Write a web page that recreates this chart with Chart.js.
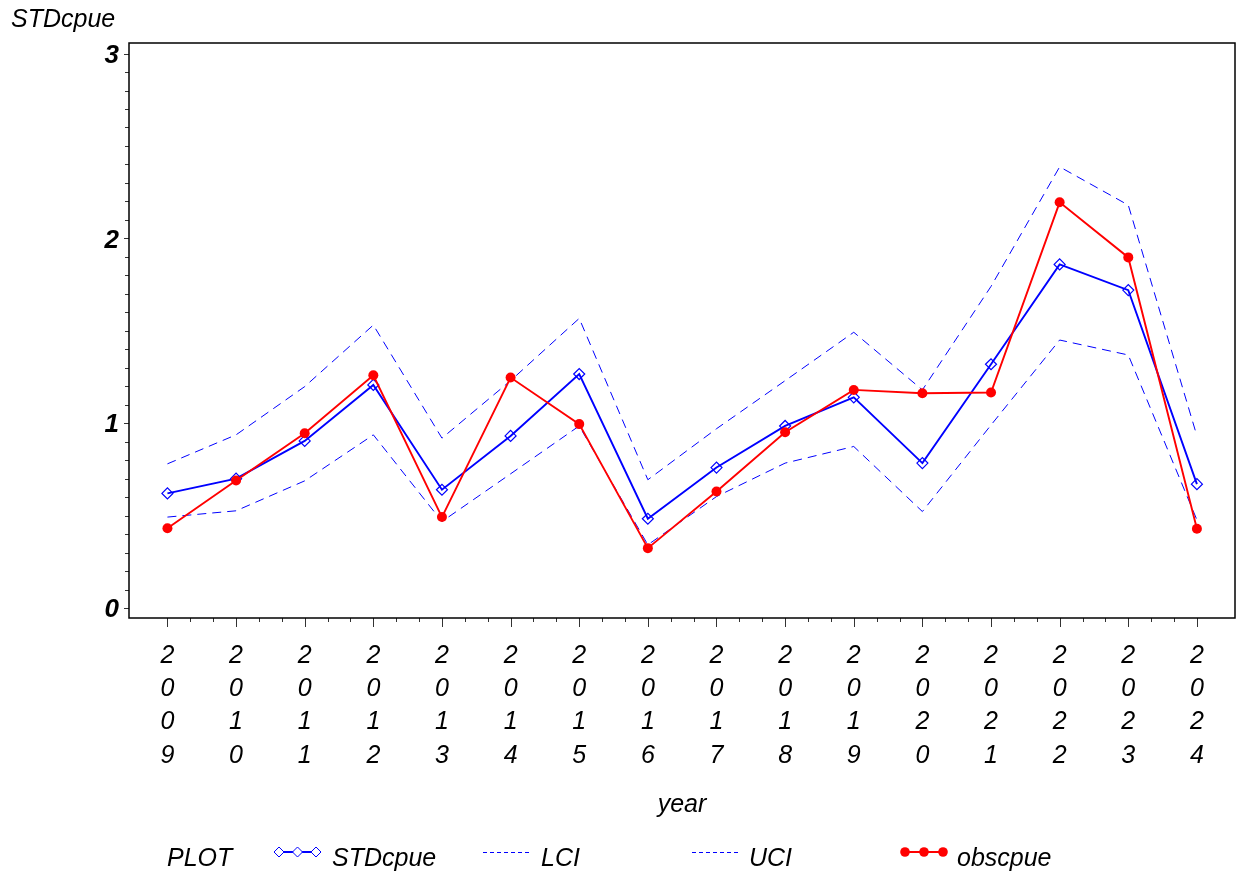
<!DOCTYPE html>
<html>
<head>
<meta charset="utf-8">
<title>STDcpue by year</title>
<script src="https://cdn.jsdelivr.net/npm/chart.js@4"></script>
<style>
  html, body { margin: 0; padding: 0; background: #fff; overflow: hidden; }
  #wrap { width: 1237px; height: 875px; overflow: hidden; }
  #cpueChart { display: block; }
</style>
</head>
<body>
<div id="wrap"><canvas id="cpueChart" width="1237" height="875"></canvas></div>
<script>
// values
const years = [2009, 2010, 2011, 2012, 2013, 2014, 2015, 2016, 2017, 2018, 2019, 2020, 2021, 2022, 2023, 2024];
const stdCpue = [0.62, 0.70, 0.904, 1.207, 0.64, 0.931, 1.266, 0.483, 0.76, 0.985, 1.14, 0.784, 1.319, 1.859, 1.72, 0.67];
const obsCpue = [0.432, 0.69, 0.946, 1.259, 0.492, 1.247, 0.995, 0.324, 0.63, 0.951, 1.18, 1.162, 1.166, 2.195, 1.897, 0.429];
const lci = [0.492, 0.526, 0.688, 0.937, 0.468, 0.726, 0.985, 0.342, 0.603, 0.784, 0.874, 0.522, 0.99, 1.45, 1.369, 0.477];
const uci = [0.78, 0.937, 1.198, 1.531, 0.919, 1.23, 1.567, 0.694, 0.97, 1.23, 1.492, 1.18, 1.74, 2.387, 2.18, 0.931];
const yTickValues = [0, 1, 2, 3];

const FONT = '"Liberation Sans", Arial, Helvetica, sans-serif';
const BLUE = '#0000ff';
const RED = '#ff0000';

const toPoints = arr => years.map((yr, i) => ({ x: yr, y: arr[i] }));

// frame, minor/major tick marks, axis titles and the legend row
const decorations = {
    id: 'decorations',
    afterDraw(chart) {
        const { ctx, chartArea: a } = chart;
        const xs = chart.scales.x;
        const ys = chart.scales.y;

        ctx.save();

        const seg = (x1, y1, x2, y2) => {
            ctx.beginPath();
            ctx.moveTo(x1, y1);
            ctx.lineTo(x2, y2);
            ctx.stroke();
        };

        // tick marks
        ctx.strokeStyle = '#333';
        ctx.lineWidth = 1;
        years.forEach((yr, i) => {
            const px = Math.round(xs.getPixelForValue(yr)) + 0.5;
            seg(px, a.bottom, px, a.bottom + 9);
            if (i < years.length - 1) {
                for (let k = 1; k <= 2; k++) {
                    const mx = Math.round(xs.getPixelForValue(yr + k / 3)) + 0.5;
                    seg(mx, a.bottom, mx, a.bottom + 4);
                }
            }
        });
        for (let t = 0; t <= 30; t++) {
            const py = Math.round(ys.getPixelForValue(t / 10)) + 0.5;
            const len = t % 10 === 0 ? 5 : 4;
            seg(a.left - len, py, a.left, py);
        }

        // frame
        ctx.strokeStyle = '#000';
        ctx.lineWidth = 1.5;
        ctx.strokeRect(a.left, a.top, a.right - a.left, a.bottom - a.top);

        // titles
        ctx.fillStyle = '#000';
        ctx.font = 'italic 25px ' + FONT;
        ctx.textBaseline = 'alphabetic';
        ctx.textAlign = 'left';
        ctx.fillText('STDcpue', 11, 27);
        ctx.textAlign = 'center';
        ctx.fillText('year', (a.left + a.right) / 2, 812);

        // legend
        const ly = 852;
        const tb = 866;
        ctx.textAlign = 'left';
        ctx.fillText('PLOT', 167, tb);

        const diamond = (cx, cy, r) => {
            ctx.beginPath();
            ctx.moveTo(cx, cy - r);
            ctx.lineTo(cx + r, cy);
            ctx.lineTo(cx, cy + r);
            ctx.lineTo(cx - r, cy);
            ctx.closePath();
            ctx.fillStyle = '#fff';
            ctx.fill();
            ctx.stroke();
        };

        // STDcpue
        ctx.strokeStyle = BLUE;
        ctx.lineWidth = 2;
        seg(279, ly, 316, ly);
        ctx.lineWidth = 1;
        [279, 297.5, 316].forEach(cx => diamond(cx, ly, 5));
        ctx.fillStyle = '#000';
        ctx.fillText('STDcpue', 332, tb);

        // LCI / UCI
        ctx.strokeStyle = BLUE;
        ctx.lineWidth = 1;
        ctx.setLineDash([4, 3]);
        seg(483, ly + 0.5, 530, ly + 0.5);
        seg(692, ly + 0.5, 738, ly + 0.5);
        ctx.setLineDash([]);
        ctx.fillText('LCI', 541, tb);
        ctx.fillText('UCI', 749, tb);

        // obscpue
        ctx.strokeStyle = RED;
        ctx.fillStyle = RED;
        ctx.lineWidth = 2;
        seg(905, ly, 943, ly);
        [905, 924, 943].forEach(cx => {
            ctx.beginPath();
            ctx.arc(cx, ly, 4.8, 0, Math.PI * 2);
            ctx.fill();
        });
        ctx.fillStyle = '#000';
        ctx.fillText('obscpue', 957, tb);

        ctx.restore();
    }
};

const ctx = document.getElementById('cpueChart').getContext('2d');

new Chart(ctx, {
    type: 'line',
    data: {
        datasets: [
            {
                label: 'obscpue',
                data: toPoints(obsCpue),
                borderColor: RED,
                backgroundColor: RED,
                borderWidth: 1.9,
                pointStyle: 'circle',
                pointRadius: 5,
                pointBorderWidth: 0,
                pointBackgroundColor: RED,
                tension: 0,
                order: 0,
            },
            {
                label: 'STDcpue',
                data: toPoints(stdCpue),
                borderColor: BLUE,
                borderWidth: 1.9,
                pointStyle: 'rectRot',
                pointRadius: 5.5,
                pointBorderWidth: 1.2,
                pointBorderColor: BLUE,
                pointBackgroundColor: 'rgba(255,255,255,0)',
                tension: 0,
                order: 1,
            },
            {
                label: 'LCI',
                data: toPoints(lci),
                borderColor: BLUE,
                borderWidth: 1,
                borderDash: [9, 6],
                pointRadius: 0,
                tension: 0,
                order: 2,
            },
            {
                label: 'UCI',
                data: toPoints(uci),
                borderColor: BLUE,
                borderWidth: 1,
                borderDash: [9, 6],
                pointRadius: 0,
                tension: 0,
                order: 3,
            },
        ],
    },
    options: {
        responsive: false,
        animation: false,
        devicePixelRatio: 1,
        // autoPadding would reserve room for point radii and pull the right edge in
        layout: { autoPadding: false, padding: { left: 0, right: 2, top: 43, bottom: 0 } },
        plugins: {
            legend: { display: false },
            title: { display: false },
            tooltip: { enabled: false },
        },
        scales: {
            x: {
                type: 'linear',
                min: 2008.44,
                max: 2024.555,
                grid: { display: false, drawTicks: false },
                border: { display: false },
                afterBuildTicks: scale => {
                    scale.ticks = years.map(v => ({ value: v }));
                },
                afterFit: scale => {
                    scale.height = 257;
                },
                ticks: {
                    autoSkip: false,
                    maxRotation: 0,
                    minRotation: 0,
                    padding: 21,
                    color: '#000',
                    font: { family: FONT, size: 25, style: 'italic', lineHeight: 1.333 },
                    callback: value => String(value).split(''),
                },
            },
            y: {
                type: 'linear',
                min: -0.054,
                max: 3.057,
                grid: { display: false, drawTicks: false },
                border: { display: false },
                afterBuildTicks: scale => {
                    scale.ticks = yTickValues.map(v => ({ value: v }));
                },
                afterFit: scale => {
                    scale.width = 129;
                    scale.paddingTop = 0;
                    scale.paddingBottom = 0;
                },
                ticks: {
                    padding: 10,
                    labelOffset: 2,
                    color: '#000',
                    font: { family: FONT, size: 26, style: 'italic', weight: 'bold' },
                    callback: value => String(value),
                },
            },
        },
    },
    plugins: [decorations],
});
</script>
</body>
</html>
